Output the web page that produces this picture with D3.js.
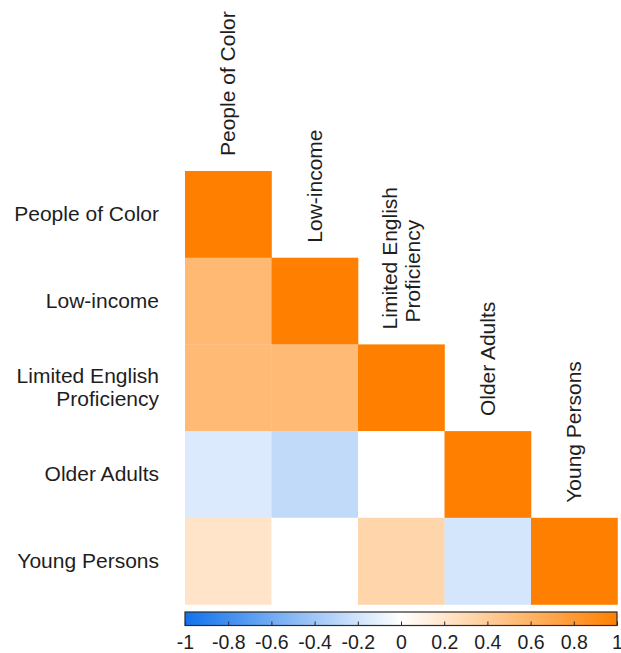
<!DOCTYPE html>
<html>
<head>
<meta charset="utf-8">
<script src="https://cdn.jsdelivr.net/npm/d3@7"></script>
<style>
  body { margin: 0; background: #fff; }
  text { font-family: "Liberation Sans", Arial, sans-serif; fill: #1e1e1e; }
</style>
</head>
<body>
<div id="chart"></div>
<script>
// variables, in row/column order
var labels = ["People of Color", "Low-income", "Limited English Proficiency", "Older Adults", "Young Persons"];
// label lines (wrapped like the original)
var labelLines = [["People of Color"], ["Low-income"], ["Limited English", "Proficiency"], ["Older Adults"], ["Young Persons"]];
// lower triangle of the correlation matrix, row by row
var corrRows = [
  [1],
  [0.55, 1],
  [0.54, 0.54, 1],
  [-0.15, -0.26, 0.0, 1],
  [0.21, 0.0, 0.33, -0.18, 1]
];
var colorTicks = [-1, -0.8, -0.6, -0.4, -0.2, 0, 0.2, 0.4, 0.6, 0.8, 1];

var W = 621, H = 653;
var svg = d3.select("#chart").append("svg")
  .attr("width", W).attr("height", H);

// cell scales
var x = d3.scaleBand().domain(labels).range([185, 617.5]);
var y = d3.scaleBand().domain(labels).range([171, 604.5]);

var color = d3.scaleLinear()
  .domain([-1, 0, 1])
  .range(["#1272ec", "#ffffff", "#ff8000"]);

// flatten the triangle
var cells = [];
corrRows.forEach(function(row, i) {
  row.forEach(function(v, j) {
    cells.push({row: labels[i], col: labels[j], value: v});
  });
});

svg.selectAll("rect.cell")
  .data(cells)
  .enter()
  .append("rect")
    .attr("class", "cell")
    .attr("x", function(d) { return x(d.col); })
    .attr("y", function(d) { return y(d.row); })
    .attr("width", x.bandwidth() + 0.3)
    .attr("height", y.bandwidth() + 0.3)
    .attr("fill", function(d) { return color(d.value); });

// row labels on the left
var rowLab = svg.selectAll("text.rowLab")
  .data(labels)
  .enter()
  .append("text")
    .attr("class", "rowLab")
    .attr("text-anchor", "end")
    .style("font-size", "21px")
    .attr("transform", function(d, i) {
      var n = labelLines[i].length;
      var cy = y(d) + y.bandwidth() / 2 + 7 - (n - 1) * 11.5;
      return "translate(159," + cy + ")";
    });
rowLab.each(function(d, i) {
  var t = d3.select(this);
  labelLines[i].forEach(function(line, k) {
    t.append("tspan").attr("x", 0).attr("dy", k === 0 ? 0 : 23).text(line);
  });
});

// column labels, rotated, above the diagonal cells
labels.forEach(function(d, i) {
  var lines = labelLines[i];
  var cx = x(d) + x.bandwidth() / 2;
  var top = y(d);
  lines.forEach(function(line, k) {
    var base = cx + 7 - (lines.length - 1) * 11.5 + k * 23;
    svg.append("text")
      .attr("class", "colLab")
      .attr("text-anchor", "start")
      .style("font-size", "21px")
      .attr("transform", "translate(" + base + "," + (top - 15 - k * 7) + ") rotate(-90)")
      .text(line);
  });
});

// colour bar
var cb = d3.scaleLinear().domain([-1, 1]).range([185, 617]);
var defs = svg.append("defs");
var grad = defs.append("linearGradient").attr("id", "cbGrad")
  .attr("x1", "0%").attr("x2", "100%").attr("y1", "0%").attr("y2", "0%");
colorTicks.forEach(function(t) {
  grad.append("stop")
    .attr("offset", ((t + 1) / 2 * 100) + "%")
    .attr("stop-color", color(t));
});

var cbTop = 612, cbH = 13.5;
svg.append("rect")
  .attr("x", cb(-1)).attr("y", cbTop)
  .attr("width", cb(1) - cb(-1)).attr("height", cbH)
  .attr("fill", "url(#cbGrad)")
  .attr("stroke", "#2a2a2a").attr("stroke-width", 1.2);

svg.append("g")
  .attr("transform", "translate(0," + (cbTop + cbH) + ")")
  .call(d3.axisBottom(cb)
          .tickValues(colorTicks)
          .tickSize(-4)
          .tickPadding(10)
          .tickFormat(function(d) { return String(+d.toFixed(1)); }))
  .call(function(g) { g.select(".domain").remove(); })
  .call(function(g) { g.selectAll(".tick line").attr("stroke", "#2a2a2a"); })
  .call(function(g) {
    g.selectAll(".tick text")
      .style("font-size", "19.5px")
      .style("font-family", "'Liberation Sans', Arial, sans-serif")
      .attr("fill", "#1e1e1e");
  });
</script>
</body>
</html>
